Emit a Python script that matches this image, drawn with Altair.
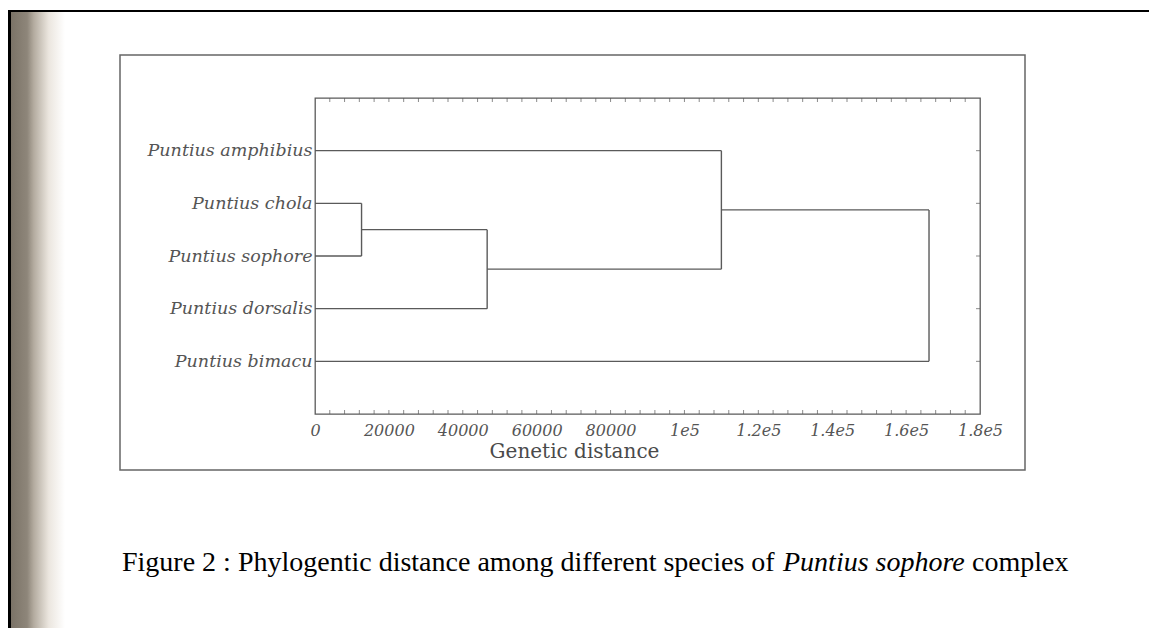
import json
import altair as alt
import pandas as pd

# ---------------- data ----------------
species = ["Puntius amphibius", "Puntius chola", "Puntius sophore",
           "Puntius dorsalis", "Puntius bimacu"]
merge_names = ["A", "B", "C", "D"]
merge_left = ["Puntius chola", "A", "Puntius amphibius", "C"]
merge_right = ["Puntius sophore", "Puntius dorsalis", "B", "Puntius bimacu"]
merge_height = [12600, 46600, 110000, 166200]

tick_values = [0, 20000, 40000, 60000, 80000, 100000, 120000, 140000, 160000, 180000]
tick_labels = ["0", "20000", "40000", "60000", "80000", "1e5", "1.2e5", "1.4e5", "1.6e5", "1.8e5"]
minor_step = 4000
x_max = 180000

caption_main = "Figure 2 : Phylogentic distance among different species of"
caption_italic = "Puntius sophore"
caption_end = "complex"
x_title = "Genetic distance"

# ---------------- dendrogram segments ----------------
pos = {name: (0, i + 1) for i, name in enumerate(species)}
segs = []
for name, l, r, h in zip(merge_names, merge_left, merge_right, merge_height):
    xl, yl = pos[l]
    xr, yr = pos[r]
    segs.append({"x0": xl, "x1": h, "y0": yl, "y1": yl})
    segs.append({"x0": xr, "x1": h, "y0": yr, "y1": yr})
    segs.append({"x0": h, "x1": h, "y0": yl, "y1": yr})
    pos[name] = (h, (yl + yr) / 2)
seg_df = pd.DataFrame(segs)

minor_df = pd.DataFrame({"t": list(range(minor_step, x_max, minor_step))})
leaf_df = pd.DataFrame({"leaf": list(range(1, len(species) + 1))})
one = pd.DataFrame({"_": [0]})

W, H = 665, 316
LINE = "#5a5a5a"

xscale = alt.Scale(domain=[0, x_max], nice=False, zero=True)
yscale = alt.Scale(domain=[0, len(species) + 1], nice=False, reverse=True)

label_expr_x = f"{json.dumps(tick_labels)}[round(datum.value / 20000)]"
label_expr_y = f"{json.dumps(species)}[round(datum.value) - 1]"

xaxis = alt.Axis(values=tick_values, labelExpr=label_expr_x, ticks=False, domain=False,
                 grid=False, labelFlush=False, labelOverlap=False,
                 labelFont="DejaVu Serif", labelFontStyle="italic", labelFontSize=16,
                 labelColor="#555555", labelPadding=8,
                 title=x_title, titleFont="DejaVu Serif", titleFontSize=20,
                 titleFontWeight="normal", titleColor="#4a4a4a",
                 titleX=259, titleY=43, titleAlign="center", titleBaseline="alphabetic")
yaxis = alt.Axis(values=list(range(1, len(species) + 1)), labelExpr=label_expr_y,
                 ticks=False, domain=False, grid=False, labelOverlap=False,
                 labelFont="DejaVu Serif", labelFontStyle="italic", labelFontSize=17.5,
                 labelColor="#555555", labelPadding=3, title=None)

dendro = alt.Chart(seg_df).mark_rule(color=LINE, strokeWidth=1.4).encode(
    x=alt.X("x0:Q", scale=xscale, axis=xaxis),
    x2="x1:Q",
    y=alt.Y("y0:Q", scale=yscale, axis=yaxis),
    y2="y1:Q",
)

ticks_bottom = alt.Chart(minor_df).mark_tick(color=LINE, thickness=1, size=4).encode(
    x=alt.X("t:Q", scale=xscale), y=alt.value(H - 2))
ticks_top = alt.Chart(minor_df).mark_tick(color=LINE, thickness=1, size=4).encode(
    x=alt.X("t:Q", scale=xscale), y=alt.value(2))
ticks_right = alt.Chart(leaf_df).mark_tick(color=LINE, thickness=1, size=4).encode(
    y=alt.Y("leaf:Q", scale=yscale), x=alt.value(W - 2))

# ---------------- page decorations ----------------
frame = alt.Chart(one).mark_rect(fill="white", fillOpacity=0, stroke="#666666", strokeWidth=1.5).encode(
    x=alt.value(-195), x2=alt.value(710), y=alt.value(-43), y2=alt.value(372))

band = alt.Chart(one).mark_rect(
    color=alt.LinearGradient(
        gradient="linear", x1=0, x2=1, y1=0, y2=0,
        stops=[alt.GradientStop(offset=0, color="#7b7367"),
               alt.GradientStop(offset=0.3, color="#8e867a"),
               alt.GradientStop(offset=0.42, color="#b3ab9f"),
               alt.GradientStop(offset=0.7, color="#ebe6df"),
               alt.GradientStop(offset=1, color="#ffffff")])
).encode(x=alt.value(-304), x2=alt.value(-250), y=alt.value(-86), y2=alt.value(540))

black_left = alt.Chart(one).mark_rect(color="black").encode(
    x=alt.value(-307), x2=alt.value(-304), y=alt.value(-88), y2=alt.value(540))
black_top = alt.Chart(one).mark_rect(color="black").encode(
    x=alt.value(-307), x2=alt.value(850), y=alt.value(-88), y2=alt.value(-86))

CAP_SIZE = 28
cap1 = alt.Chart(one).mark_text(align="left", baseline="alphabetic", font="Liberation Serif",
                                fontSize=CAP_SIZE, color="black").encode(
    x=alt.value(-193), y=alt.value(473), text=alt.value(caption_main))
cap2 = alt.Chart(one).mark_text(align="left", baseline="alphabetic", font="Liberation Serif",
                                fontSize=CAP_SIZE, fontStyle="italic", color="black").encode(
    x=alt.value(468), y=alt.value(473), text=alt.value(caption_italic))
cap3 = alt.Chart(one).mark_text(align="left", baseline="alphabetic", font="Liberation Serif",
                                fontSize=CAP_SIZE, color="black").encode(
    x=alt.value(657), y=alt.value(473), text=alt.value(caption_end))

chart = alt.layer(
    band, black_left, black_top, frame,
    dendro, ticks_bottom, ticks_top, ticks_right,
    cap1, cap2, cap3,
).properties(
    width=W, height=H,
    autosize=alt.AutoSizeParams(type="none"),
    padding={"left": 307, "top": 90, "right": 169, "bottom": 214},
    background="white",
).configure_view(stroke=LINE, strokeWidth=1.3)

chart.save("out.html", embed_options={"renderer": "svg", "actions": False})
